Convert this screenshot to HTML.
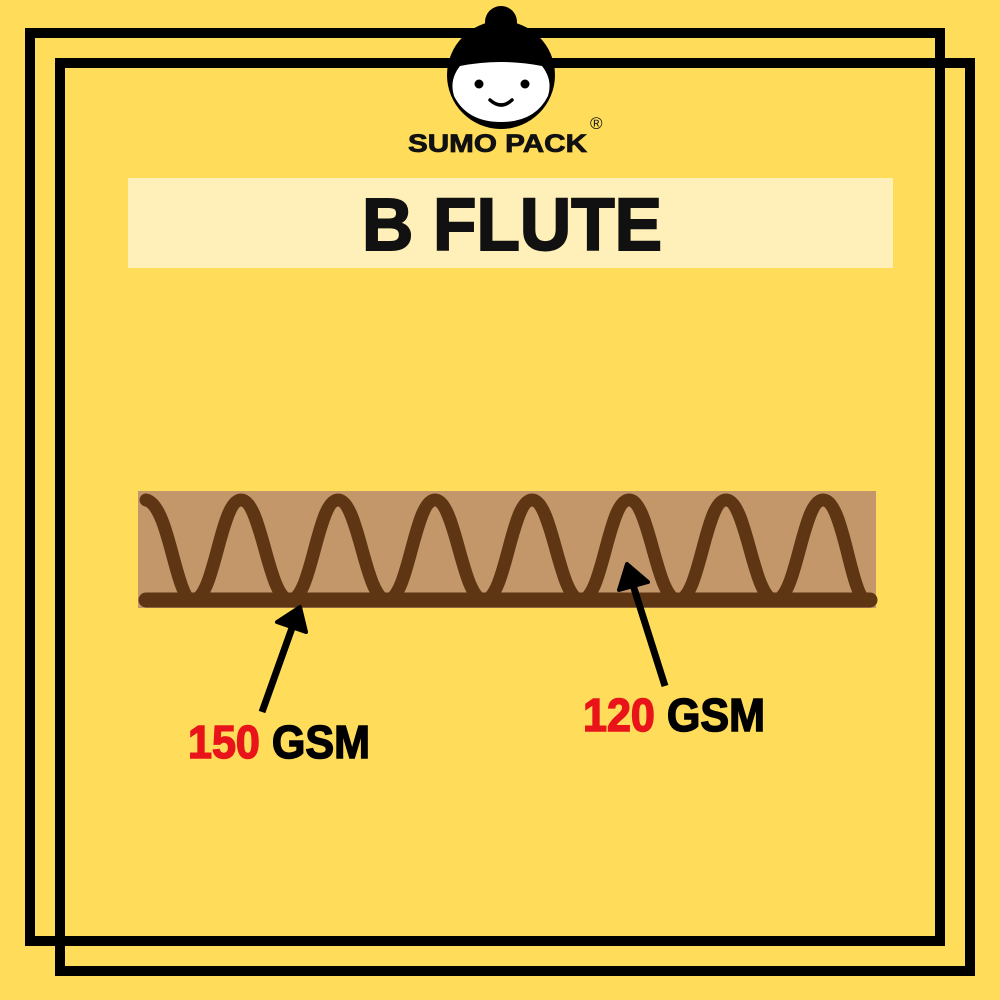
<!DOCTYPE html>
<html><head><meta charset="utf-8"><style>
html,body{margin:0;padding:0;background:#FFDD5A;}
svg{display:block}
</style></head><body>
<svg width="1000" height="1000" viewBox="0 0 1000 1000" xmlns="http://www.w3.org/2000/svg">
<rect width="1000" height="1000" fill="#FFDD5A"/>
<rect x="30" y="33" width="910" height="908" fill="none" stroke="#000" stroke-width="10"/>
<rect x="60" y="63" width="910" height="908" fill="none" stroke="#000" stroke-width="10"/>
<g>
<circle cx="501" cy="22" r="16" fill="#000"/>
<circle cx="501" cy="75" r="54" fill="#000"/>
<path d="M460,66 Q501,58 542,66 Q553,80 548,96 Q535,122 501,122 Q467,122 454,96 Q449,80 460,66 Z" fill="#fff"/>
<circle cx="479" cy="84" r="4.5" fill="#000"/>
<circle cx="525" cy="84" r="4.5" fill="#000"/>
<path d="M490,100 Q501,110 512,100" fill="none" stroke="#000" stroke-width="3.5" stroke-linecap="round"/>
</g>
<text x="408" y="152" font-family="Liberation Sans, sans-serif" font-weight="bold" font-size="25" textLength="179" lengthAdjust="spacingAndGlyphs" fill="#111" stroke="#111" stroke-width="0.8">SUMO PACK</text>
<text x="590" y="129" font-family="Liberation Sans, sans-serif" font-size="17" fill="#111">®</text>
<rect x="128" y="178" width="765" height="90" fill="#FEF0B8"/>
<text x="362" y="250" font-family="Liberation Sans, sans-serif" font-weight="bold" font-size="74" textLength="300" lengthAdjust="spacingAndGlyphs" fill="#111" stroke="#111" stroke-width="2">B FLUTE</text>
<rect x="138" y="491" width="738" height="117" fill="#C4976B"/>
<path d="M146,500 C170,505 175,600 193,600 C215,600 220,500 241,500 C262,500 268,600 290,600 C312,600 317,500 338,500 C359,500 365,600 387,600 C409,600 414,500 435,500 C456,500 462,600 484,600 C506,600 511,500 532,500 C553,500 559,600 581,600 C603,600 608,500 629,500 C650,500 656,600 678,600 C700,600 705,500 726,500 C747,500 753,600 775,600 C797,600 802,500 823,500 C844,500 850,595 866,600" fill="none" stroke="#5E3613" stroke-width="13" stroke-linecap="round"/>
<line x1="146" y1="600" x2="870" y2="600" stroke="#5E3613" stroke-width="15" stroke-linecap="round"/>
<line x1="262" y1="712" x2="292" y2="628" stroke="#000" stroke-width="7"/>
<polygon points="300,607 306,632 277,622" fill="#000" stroke="#000" stroke-width="4" stroke-linejoin="round"/>
<line x1="665" y1="686" x2="633" y2="585" stroke="#000" stroke-width="7"/>
<polygon points="627,564 619,590 648,582" fill="#000" stroke="#000" stroke-width="4" stroke-linejoin="round"/>
<text x="188" y="758" font-family="Liberation Sans, sans-serif" font-weight="bold" font-size="46" textLength="182" lengthAdjust="spacingAndGlyphs" stroke-width="1.5"><tspan fill="#E8141A" stroke="#E8141A">150</tspan><tspan fill="#000" stroke="#000"> GSM</tspan></text>
<text x="583" y="731" font-family="Liberation Sans, sans-serif" font-weight="bold" font-size="46" textLength="182" lengthAdjust="spacingAndGlyphs" stroke-width="1.5"><tspan fill="#E8141A" stroke="#E8141A">120</tspan><tspan fill="#000" stroke="#000"> GSM</tspan></text>
</svg>
</body></html>
